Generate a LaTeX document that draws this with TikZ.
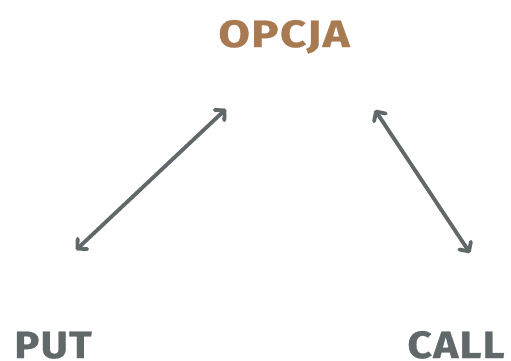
\documentclass[tikz,border=0pt]{standalone}
\usepackage{fontspec}
\usepackage{graphicx}
\setmainfont{Fira Sans}
\usetikzlibrary{arrows.meta}
\definecolor{brownc}{RGB}{168,122,82}
\definecolor{grayc}{RGB}{96,104,106}
\newcommand{\widetxt}[2]{\scalebox{#1}[1]{#2}}
\begin{document}
\begin{tikzpicture}[x=1pt,y=-1pt,
  label/.style={font=\fontsize{38}{40}\selectfont\bfseries\addfontfeatures{FakeBold=0.7,LetterSpace=3}, inner sep=0pt, anchor=base},
  link/.style={draw=grayc, line width=3.8pt, line cap=round,
    {Straight Barb[length=7pt,width=14pt,round]}-{Straight Barb[length=7pt,width=14pt,round]}}]
\useasboundingbox (0,0) rectangle (511,360);
\node[label, text=brownc] (opcja) at (284,47) {\widetxt{1.2}{OPCJA}};
\node[label, text=grayc] (put) at (53,358) {\widetxt{1.1}{PUT}};
\node[label, text=grayc] (call) at (456,358) {\widetxt{1.12}{CALL}};
\coordinate (a1) at (76,250);
\coordinate (a2) at (226,109);
\coordinate (b1) at (375,110);
\coordinate (b2) at (470,253);
\draw[link] (a1) -- (a2);
\draw[link] (b1) -- (b2);
\end{tikzpicture}
\end{document}
